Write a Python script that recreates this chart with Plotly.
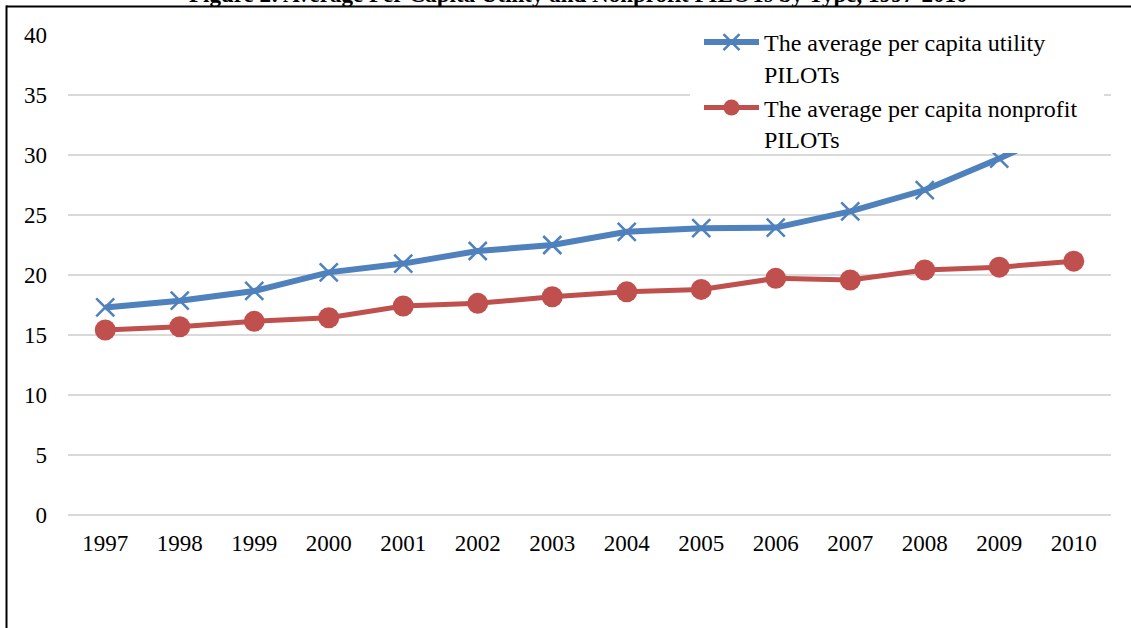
import plotly.graph_objects as go

years = ["1997", "1998", "1999", "2000", "2001", "2002", "2003",
         "2004", "2005", "2006", "2007", "2008", "2009", "2010"]
utility = [17.3, 17.86, 18.67, 20.22, 20.95, 22.0, 22.5,
           23.6, 23.9, 23.95, 25.3, 27.08, 29.7, 32.6]
nonprofit = [15.42, 15.69, 16.14, 16.44, 17.42, 17.64, 18.19,
             18.6, 18.8, 19.72, 19.58, 20.42, 20.65, 21.15]
y_ticks = [0, 5, 10, 15, 20, 25, 30, 35, 40]
name_utility = "The average per capita utility<br>PILOTs"
name_nonprofit = "The average per capita nonprofit<br>PILOTs"
title_text = "Figure 2: Average Per Capita Utility and Nonprofit PILOTs by Type, 1997-2010"

BLUE = "#4F81BD"
RED = "#C0504D"
FONT = "Liberation Serif, Times New Roman, serif"

W, H = 1131, 628
ML, MR, MT, MB = 68, 20, 35, 113
PW, PH = W - ML - MR, H - MT - MB

def px_x(p):
    return (p - ML) / PW

def px_y(p):
    return (H - MB - p) / PH

fig = go.Figure()
fig.add_trace(go.Scatter(
    x=years, y=utility, name=name_utility, mode="lines+markers",
    line=dict(color=BLUE, width=6),
    marker=dict(symbol="x-thin", size=18, color=BLUE,
                line=dict(color=BLUE, width=2.5)),
))
fig.add_trace(go.Scatter(
    x=years, y=nonprofit, name=name_nonprofit, mode="lines+markers",
    line=dict(color=RED, width=5),
    marker=dict(symbol="circle", size=21, color=RED),
))

fig.update_layout(
    width=W, height=H,
    margin=dict(l=ML, r=MR, t=MT, b=MB, pad=0),
    paper_bgcolor="white", plot_bgcolor="white",
    font=dict(family=FONT, size=23, color="black"),
    showlegend=True,
    legend=dict(
        x=px_x(699), y=px_y(20), xanchor="left", yanchor="top",
        bgcolor="rgba(255,255,255,0)", borderwidth=0, itemwidth=55,
        valign="top",
        font=dict(family=FONT, size=24, color="black"),
    ),
    xaxis=dict(
        type="category", range=[-0.5, 13.5], showgrid=False,
        showline=False, ticks="", ticklabelstandoff=12,
        tickfont=dict(family=FONT, size=23),
    ),
    yaxis=dict(
        range=[0, 40], tickvals=y_ticks, showgrid=True,
        gridcolor="#d9d9d9", gridwidth=2, zeroline=True,
        zerolinecolor="#d9d9d9", zerolinewidth=2, showline=False,
        ticks="", ticklabelstandoff=20,
        tickfont=dict(family=FONT, size=23),
    ),
    shapes=[
        dict(
            type="rect", xref="paper", yref="paper",
            x0=px_x(690), x1=px_x(1104), y0=px_y(153), y1=px_y(25),
            line=dict(width=0), fillcolor="white", layer="above",
        ),
        dict(
            type="line", xref="paper", yref="paper",
            x0=px_x(6), x1=px_x(W + 10), y0=px_y(6.5), y1=px_y(6.5),
            line=dict(color="black", width=2), layer="above",
        ),
        dict(
            type="line", xref="paper", yref="paper",
            x0=px_x(6.5), x1=px_x(6.5), y0=px_y(5.5), y1=px_y(H + 10),
            line=dict(color="black", width=2), layer="above",
        ),
    ],
    annotations=[dict(
        text="<b>" + title_text + "</b>", xref="paper", yref="paper",
        x=px_x(578), y=px_y(9), xanchor="center", yanchor="bottom",
        showarrow=False, font=dict(family=FONT, size=23, color="black"),
    )],
)

fig.write_html(
    "out.html",
    config={"displayModeBar": False},
    post_script="document.body.style.margin='0';document.body.style.padding='0';document.body.style.overflow='hidden';",
)
